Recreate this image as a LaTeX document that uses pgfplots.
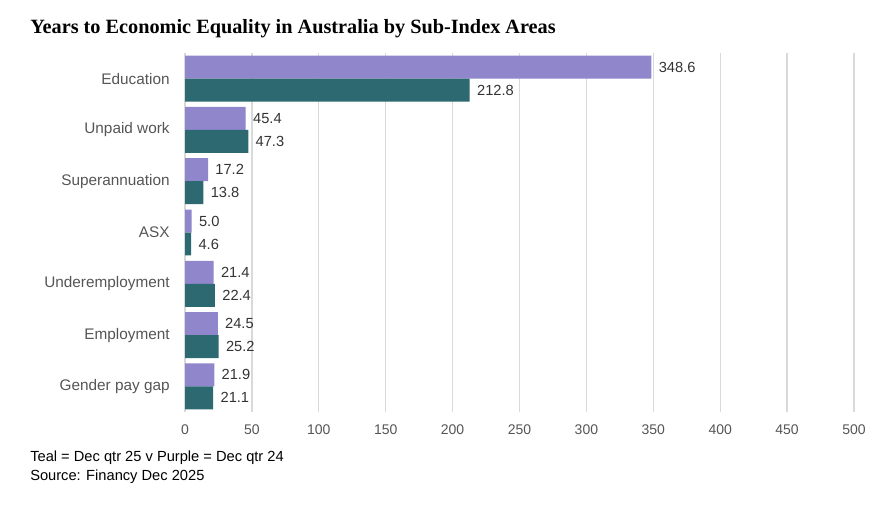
\documentclass[border=0pt]{standalone}
\usepackage{fontspec}
\setmainfont{Liberation Sans}
\newfontfamily\titlefont{Liberation Serif}
\usepackage{pgfplots}
\pgfplotsset{compat=1.18}

\definecolor{purplebar}{HTML}{8F86CC}
\definecolor{tealbar}{HTML}{2D6970}
\definecolor{gridgray}{HTML}{D9D9D9}
\definecolor{labelgray}{HTML}{555555}
\definecolor{valgray}{HTML}{333333}

\begin{document}
\begin{tikzpicture}
\path[use as bounding box] (0,0) rectangle (672pt,379.5pt);

\node[anchor=west, inner sep=0pt] at (22.5pt,358pt)
  {\titlefont\fontsize{15.2pt}{18pt}\selectfont\bfseries Years to Economic Equality in Australia by Sub-Index Areas};

\begin{axis}[
  at={(138.75pt,70.5pt)}, anchor=south west,
  scale only axis,
  width=501.75pt, height=269.25pt,
  xmin=0, xmax=500,
  ymin=-0.5, ymax=6.5,
  y dir=reverse,
  xtick={0,50,...,500},
  ytick={0,1,2,3,4,5,6},
  yticklabels={Education, Unpaid work, Superannuation, ASX, Underemployment, Employment, Gender pay gap},
  xmajorgrids,
  grid style={gridgray, line width=1pt},
  axis line style={draw=none},
  major tick length=0pt,
  /pgf/number format/assume math mode=true,
  tick label style={text=labelgray},
  xticklabel style={font=\fontsize{10.5pt}{12pt}\selectfont, yshift=-6pt},
  yticklabel style={font=\fontsize{11.5pt}{13pt}\selectfont, xshift=-8pt},
  xbar, bar width=0.448,
  point meta=explicit,
  nodes near coords={\pgfmathprintnumber[fixed,fixed zerofill,precision=1]{\pgfplotspointmeta}},
  nodes near coords style={anchor=west, font=\fontsize{11pt}{13pt}\selectfont, text=valgray, xshift=2pt},
]
\addplot[fill=purplebar, draw=none, bar shift=-0.224] coordinates {
  (348.6,0) [348.6] (45.4,1) [45.4] (17.2,2) [17.2] (5.0,3) [5.0]
  (21.4,4) [21.4] (24.5,5) [24.5] (21.9,6) [21.9]};
\addplot[fill=tealbar, draw=none, bar shift=0.224] coordinates {
  (212.8,0) [212.8] (47.3,1) [47.3] (13.8,2) [13.8] (4.6,3) [4.6]
  (22.4,4) [22.4] (25.2,5) [25.2] (21.1,6) [21.1]};
\end{axis}

\node[anchor=west, inner sep=0pt] at (22.5pt,36pt)
  {\fontsize{11pt}{13pt}\selectfont Teal = Dec qtr 25 v Purple = Dec qtr 24};
\node[anchor=west, inner sep=0pt] at (22.5pt,21.75pt)
  {\fontsize{11pt}{13pt}\selectfont Source: Financy Dec 2025};
\end{tikzpicture}
\end{document}
